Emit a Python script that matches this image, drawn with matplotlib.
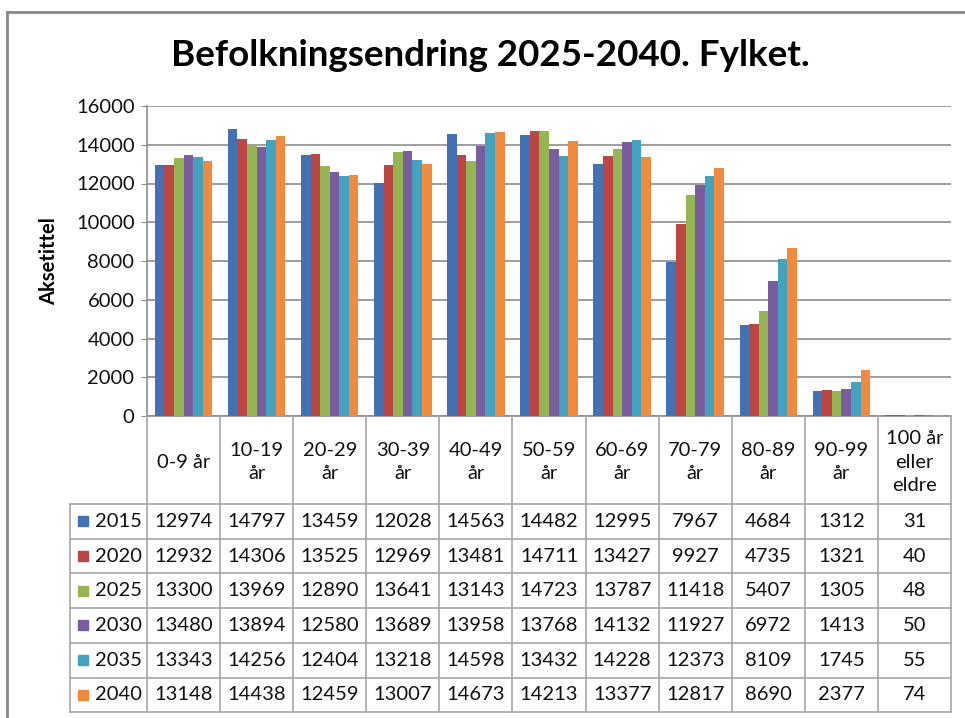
import matplotlib

matplotlib.use("Agg")
import matplotlib.pyplot as plt
from matplotlib.lines import Line2D
from matplotlib.patches import Rectangle
import numpy as np

# Age groups and population per year (values from the data table)
categories = ["0-9 år", "10-19\når", "20-29\når", "30-39\når", "40-49\når",
              "50-59\når", "60-69\når", "70-79\når", "80-89\når", "90-99\når",
              "100 år\neller\neldre"]
years = ["2015", "2020", "2025", "2030", "2035", "2040"]
pop_2015 = [12974, 14797, 13459, 12028, 14563, 14482, 12995, 7967, 4684, 1312, 31]
pop_2020 = [12932, 14306, 13525, 12969, 13481, 14711, 13427, 9927, 4735, 1321, 40]
pop_2025 = [13300, 13969, 12890, 13641, 13143, 14723, 13787, 11418, 5407, 1305, 48]
pop_2030 = [13480, 13894, 12580, 13689, 13958, 13768, 14132, 11927, 6972, 1413, 50]
pop_2035 = [13343, 14256, 12404, 13218, 14598, 13432, 14228, 12373, 8109, 1745, 55]
pop_2040 = [13148, 14438, 12459, 13007, 14673, 14213, 13377, 12817, 8690, 2377, 74]
series = [pop_2015, pop_2020, pop_2025, pop_2030, pop_2035, pop_2040]
colors = ["#4272B4", "#BC4644", "#93B552", "#7A5D9E", "#43A3BE", "#F08A3E"]

W, H = 965, 718
FONT = "Lato"
plt.rcParams["font.family"] = [FONT, "DejaVu Sans"]
TXT = "#111111"
FS = 14.5


def fx(x):
    return x / W


def fy(y):
    return 1 - y / H


# plot area in pixels
L, R, T, B = 147, 951, 106, 416
fig = plt.figure(figsize=(W / 100, H / 100), dpi=100)
ax = fig.add_axes([fx(L), fy(B), fx(R - L), (B - T) / H])

x = np.arange(len(categories))
bw = 0.131
for i, (vals, c) in enumerate(zip(series, colors)):
    ax.bar(x + (i - 2.5) * bw, vals, width=bw, color=c, linewidth=0, zorder=3)

ax.set_xlim(-0.5, len(categories) - 0.5)
ax.set_ylim(0, 16000)
ax.set_yticks(np.arange(0, 16001, 2000))
ax.set_xticks([])
ax.tick_params(axis="y", length=4, color="#8c8c8c", labelsize=FS,
               labelcolor=TXT, pad=5)
ax.grid(axis="y", color="#8c8c8c", lw=1.2, zorder=0)
for s in ["right", "top"]:
    ax.spines[s].set_visible(False)
for s in ["left", "bottom"]:
    ax.spines[s].set_color("#8c8c8c")
    ax.spines[s].set_linewidth(1.2)
ax.set_ylabel("Aksetittel", fontsize=14.5, fontweight="bold", labelpad=12)

fig.text(fx(490), fy(66), "Befolkningsendring 2025-2040. Fylket.",
         ha="center", va="baseline", fontsize=26.5, fontweight="bold")

# outer chart frame
fig.add_artist(Line2D([fx(7), fx(7)], [fy(12), fy(718)], color="#888888", lw=2))
fig.add_artist(Line2D([fx(7), 1], [fy(12), fy(12)], color="#888888", lw=2))

# data table
gc = "#a6a6a6"
col_w = (R - L) / len(categories)
cols = [L + k * col_w for k in range(len(categories) + 1)]
head_bot = 504
row_h = 34.7
rows = [head_bot + k * row_h for k in range(len(years) + 1)]
tab_left = 70

for cx in cols:
    fig.add_artist(Line2D([fx(cx)] * 2, [fy(B), fy(rows[-1])], color=gc, lw=1.2))
fig.add_artist(Line2D([fx(tab_left)] * 2, [fy(head_bot), fy(rows[-1])], color=gc, lw=1.2))
for ry in rows:
    fig.add_artist(Line2D([fx(tab_left), fx(R)], [fy(ry)] * 2, color=gc, lw=1.2))

for j, cat in enumerate(categories):
    fig.text(fx((cols[j] + cols[j + 1]) / 2), fy((B + head_bot) / 2 + 2), cat,
             ha="center", va="center", fontsize=FS, linespacing=1.45,
             color=TXT)

for i, (yr, vals, c) in enumerate(zip(years, series, colors)):
    cy = (rows[i] + rows[i + 1]) / 2
    fig.add_artist(Rectangle((fx(78), fy(cy + 5)), fx(10), 10 / H, color=c))
    fig.text(fx(95), fy(cy), yr, ha="left", va="center", fontsize=FS,
             color=TXT)
    for j, v in enumerate(vals):
        fig.text(fx((cols[j] + cols[j + 1]) / 2), fy(cy), str(v),
                 ha="center", va="center", fontsize=FS, color=TXT)

fig.savefig("out.png", dpi=100, facecolor="white")
